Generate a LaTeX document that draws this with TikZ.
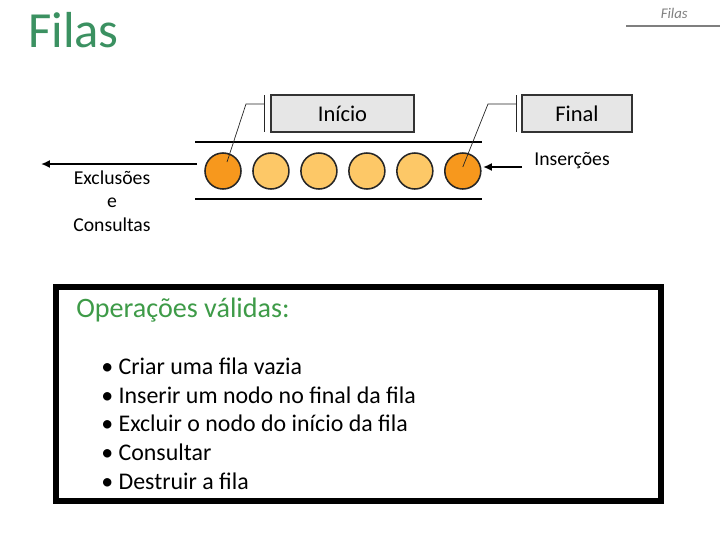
\documentclass[tikz,border=0pt]{standalone}
\usepackage{fontspec}
\setmainfont{Carlito}
\usetikzlibrary{arrows.meta, positioning}
\definecolor{titlegreen}{HTML}{3B9161}
\definecolor{opgreen}{HTML}{3E9B48}
\definecolor{endorange}{HTML}{F7981D}
\definecolor{midorange}{HTML}{FDC867}
\definecolor{tagfill}{HTML}{E6E6E6}
\definecolor{headgray}{HTML}{7F7F7F}
\tikzset{
    ball/.style={circle, draw=black!85, line width=1.1pt, minimum size=0.9cm, inner sep=0pt},
    endball/.style={ball, fill=endorange},
    midball/.style={ball, fill=midorange},
    tagbox/.style={rectangle, draw=black!80, fill=tagfill, line width=0.8pt, minimum height=0.925cm, font=\fontsize{16}{18}\selectfont},
    rail/.style={line width=1.4pt, draw=black},
    pointer/.style={line width=0.5pt, draw=black!85},
    arrow/.style={-{Latex[length=2.2mm, width=2mm]}, line width=1.4pt, draw=black},
    sidelabel/.style={align=center, font=\fontsize{14}{16.7}\selectfont},
    opsbox/.style={rectangle, draw=black, line width=4.25pt, fill=white}
}

\begin{document}
\begin{tikzpicture}[x=0.025cm, y=-0.025cm]
        \useasboundingbox (0,0) rectangle (720,540);

        % page header
        \node[anchor=base west, inner sep=0pt, text=titlegreen, font=\fontsize{36}{38}\selectfont] (title) at (28,47) {Filas};
        \node[anchor=base east, inner sep=0pt, text=headgray, font=\itshape\fontsize{10.5}{12}\selectfont] (header) at (688,18) {Filas};
        \draw[headgray, line width=2pt] (626,26) -- (720,26);

        % queue
        \node[endball] (c1) at (223,171) {};
        \node[midball, right=0.26cm of c1] (c2) {};
        \node[midball, right=0.26cm of c2] (c3) {};
        \node[midball, right=0.26cm of c3] (c4) {};
        \node[midball, right=0.26cm of c4] (c5) {};
        \node[endball, right=0.26cm of c5] (c6) {};
        \draw[rail] (195,142) -- (482,142);
        \draw[rail] (195,199) -- (482,199);

        % pointers
        \node[tagbox, minimum width=3.575cm] (inicio) at (342.5,113.5) {Início};
        \node[tagbox, minimum width=2.75cm] (final) at (577,113.5) {Final};
        \draw[pointer] (264,95) -- (264,132);
        \draw[pointer] (516,95) -- (516,132);
        \draw[pointer] (264,104) -- (246,104) -- ([shift={(0.1cm,0.225cm)}]c1.center);
        \draw[pointer] (516,104) -- (488,104) -- ([yshift=0.1cm]c6.center);

        % ends of the queue
        \coordinate (exitstart) at (197,164);
        \coordinate (exitend) at (41,164);
        \coordinate (enterstart) at (522,167);
        \coordinate (enterend) at (483,167);
        \draw[arrow] (exitstart) -- (exitend);
        \draw[arrow] (enterstart) -- (enterend);
        \node[sidelabel] (exclusoes) at (112,201) {Exclusões\\e\\Consultas};
        \node[sidelabel] (insercoes) at (572,161) {Inserções};

        % operations
        \node[opsbox, minimum width=15.125cm, minimum height=5.35cm] (ops) at (358.5,394) {};
        \node[anchor=base west, inner sep=0pt, text=opgreen, font=\fontsize{20}{22}\selectfont] (opstitle) at (76,317) {Operações válidas:};
        \node[anchor=base west, inner sep=0pt, align=left, font=\fontsize{17}{20.3}\selectfont] (opslist) at (101,489)
            {\textbullet\ Criar uma fila vazia\\
             \textbullet\ Inserir um nodo no final da fila\\
             \textbullet\ Excluir o nodo do início da fila\\
             \textbullet\ Consultar\\
             \textbullet\ Destruir a fila};
    \end{tikzpicture}
\end{document}
